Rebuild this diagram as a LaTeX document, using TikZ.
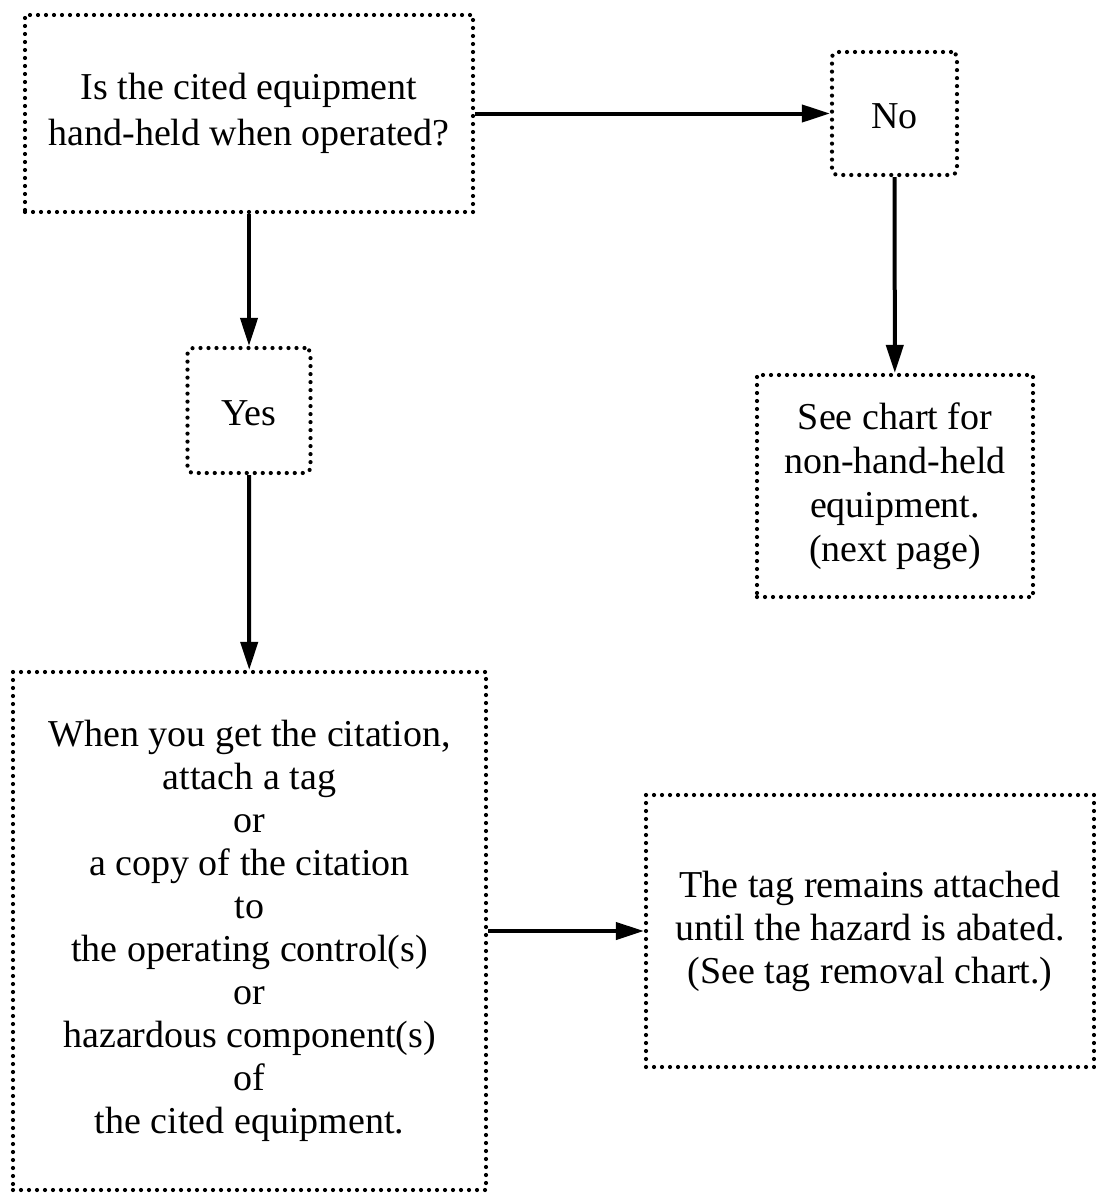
\documentclass[tikz,border=0pt]{standalone}
\usepackage{fontspec}
\setmainfont{Liberation Serif}
\usetikzlibrary{arrows.meta}
\tikzset{
  box/.style={draw,line width=2.1pt,dash pattern=on 0pt off 4pt,line cap=round,
    inner sep=0pt,align=center,font=\fontsize{19pt}{21.5pt}\selectfont,
    execute at begin node={\rule{0pt}{15pt}}},
  rbox/.style={box,rounded corners=3pt},
}
\begin{document}
\begin{tikzpicture}[x=0.5pt,y=-0.5pt]
      \useasboundingbox (0,0) rectangle (1096,1199);
      \draw
        (249,113.5) node[box,minimum width=224pt,minimum height=98.5pt,
          font=\fontsize{19pt}{23pt}\selectfont] (q){Is the cited equipment\\hand-held when operated?}
        (894.5,113.5) node[rbox,minimum width=62.5pt,minimum height=61.5pt] (no){No}
        (249,410.5) node[rbox,minimum width=61.5pt,minimum height=62.5pt] (yes){Yes}
        (895,486) node[box,minimum width=138pt,minimum height=111pt,
          font=\fontsize{19pt}{22pt}\selectfont] (see){See chart for\\non-hand-held\\equipment.\\(next page)}
        (249.5,931) node[box,minimum width=236.5pt,minimum height=259pt] (act){When you get the citation,\\attach a tag\\or\\a copy of the citation\\to\\the operating control(s)\\or\\hazardous component(s)\\of\\the cited equipment.}
        (870,931) node[box,minimum width=224pt,minimum height=136pt] (tag){The tag remains attached\\until the hazard is abated.\\(See tag removal chart.)};
      \begin{scope}[line width=2pt,-{Triangle[length=14pt,width=8.5pt]}]
        \draw (q) to (no);
        \draw (q) to (yes);
        \draw (no) to (see);
        \draw (yes) to (act);
        \draw (act) to (tag);
      \end{scope}
    \end{tikzpicture}
\end{document}
